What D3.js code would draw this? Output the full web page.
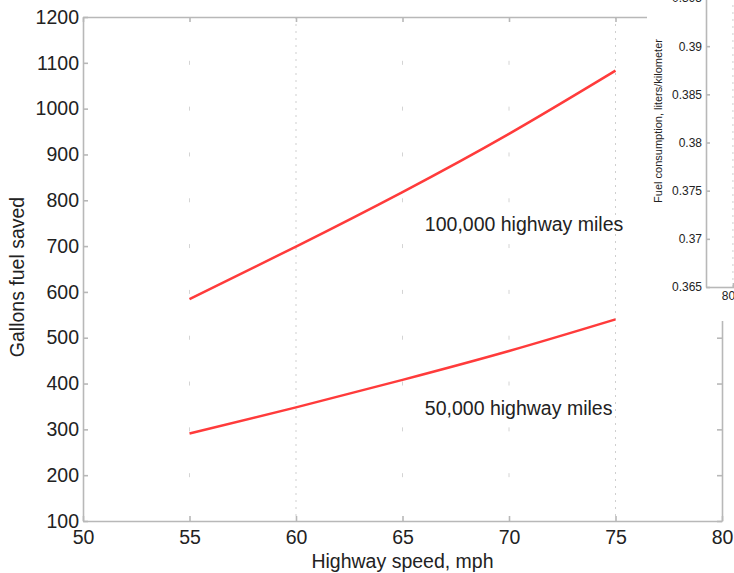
<!DOCTYPE html>
<html>
<head>
<meta charset="utf-8">
<script src="https://cdn.jsdelivr.net/npm/d3@7"></script>
<style>
  body { margin: 0; background: #fff; }
  svg { display: block; font-family: "Liberation Sans", Arial, sans-serif; }
  .axis path, .axis line { stroke: #b8b8b8; stroke-width: 1.6; }
  .axis text { fill: #222; }
</style>
</head>
<body>
<div id="chart"></div>
<script>
// speeds in mph and gallons saved for each distance
const speeds = [55, 60, 65, 70, 75];
const saved100k = [584, 699, 818, 945, 1083];
const saved50k = [291, 348, 408, 471, 540];
const seriesNames = ["100,000 highway miles", "50,000 highway miles"];

const xTicks = [50, 55, 60, 65, 70, 75, 80];
const yTicks = [100, 200, 300, 400, 500, 600, 700, 800, 900, 1000, 1100, 1200];

// the clipped inset at top right
const insetTicks = [0.365, 0.37, 0.375, 0.38, 0.385, 0.39, 0.395];
const insetTickLabels = ["0.365", "0.37", "0.375", "0.38", "0.385", "0.39", "0.395"];
const insetXTicks = [80];

var width = 734, height = 573;
var margin = {top: 17, right: 12, bottom: 52, left: 83};
var fs = 19.5;

var svg = d3.select("#chart").append("svg")
    .attr("width", width)
    .attr("height", height);

var x = d3.scaleLinear().domain([50, 80]).range([margin.left, width - margin.right]);
var y = d3.scaleLinear().domain([100, 1200]).range([height - margin.bottom, margin.top]);

// faint dotted grid: full lines at 60 and 75, dots at the other crossings
var grid = svg.append("g");
[60, 75].forEach(function(v) {
  grid.append("line")
      .attr("x1", x(v)).attr("x2", x(v))
      .attr("y1", y(1200)).attr("y2", y(100))
      .attr("stroke", "#cfcfcf")
      .attr("stroke-dasharray", "2,5");
});
[55, 65, 70].forEach(function(v) {
  yTicks.slice(1, -1).forEach(function(t) {
    grid.append("line")
        .attr("x1", x(v)).attr("x2", x(v))
        .attr("y1", y(t) - 2).attr("y2", y(t) + 2)
        .attr("stroke", "#d4d4d4");
  });
});

// axes with inward ticks
svg.append("g").attr("class", "axis")
    .attr("transform", "translate(0," + y(100) + ")")
    .call(d3.axisBottom(x).tickValues(xTicks).tickSizeInner(-5).tickSizeOuter(0).tickPadding(9))
    .selectAll("text").attr("font-size", fs);

svg.append("g").attr("class", "axis")
    .attr("transform", "translate(" + x(50) + ",0)")
    .call(d3.axisLeft(y).tickValues(yTicks).tickFormat(d3.format("d"))
      .tickSizeInner(-5).tickSizeOuter(0).tickPadding(4))
    .selectAll("text").attr("font-size", fs);

svg.append("g").attr("class", "axis")
    .attr("transform", "translate(0," + y(1200) + ")")
    .call(d3.axisTop(x).tickValues(xTicks).tickSizeInner(-5).tickSizeOuter(0).tickFormat(""));

svg.append("g").attr("class", "axis")
    .attr("transform", "translate(" + x(80) + ",0)")
    .call(d3.axisRight(y).tickValues(yTicks).tickSizeInner(-5).tickSizeOuter(0).tickFormat(""));

// the two curves
var line = d3.line()
    .x(function(d) { return x(d[0]); })
    .y(function(d) { return y(d[1]); })
    .curve(d3.curveNatural);

[saved100k, saved50k].forEach(function(vals) {
  svg.append("path")
      .datum(speeds.map(function(s, i) { return [s, vals[i]]; }))
      .attr("fill", "none")
      .attr("stroke", "#ff3b3b")
      .attr("stroke-width", 2.5)
      .attr("d", line);
});

// series labels
svg.append("text")
    .attr("x", x(66.05)).attr("y", y(748))
    .attr("dominant-baseline", "central")
    .attr("font-size", fs).attr("fill", "#222")
    .text(seriesNames[0]);

svg.append("text")
    .attr("x", x(66.05)).attr("y", y(347))
    .attr("dominant-baseline", "central")
    .attr("font-size", fs).attr("fill", "#222")
    .text(seriesNames[1]);

// axis titles
svg.append("text")
    .attr("transform", "translate(17," + 277 + ") rotate(-90)")
    .attr("text-anchor", "middle")
    .attr("dominant-baseline", "central")
    .attr("font-size", fs).attr("fill", "#222")
    .text("Gallons fuel saved");

svg.append("text")
    .attr("x", x(65)).attr("y", 568)
    .attr("text-anchor", "middle")
    .attr("font-size", fs).attr("fill", "#222")
    .text("Highway speed, mph");

// inset panel laid over the top right corner
svg.append("rect")
    .attr("x", 647).attr("y", 0)
    .attr("width", width - 647).attr("height", 321)
    .attr("fill", "#fff");

var iy = d3.scaleLinear().domain([0.365, 0.395]).range([287, -2]);
var ix = d3.scaleLinear().domain([75, 80.2]).range([706, 734]);

svg.append("line")
    .attr("x1", ix(80)).attr("x2", ix(80))
    .attr("y1", iy(0.395)).attr("y2", iy(0.365))
    .attr("stroke", "#cfcfcf")
    .attr("stroke-dasharray", "2,5");

svg.append("g").attr("class", "axis")
    .attr("transform", "translate(" + ix(75) + ",0)")
    .call(d3.axisLeft(iy).tickValues(insetTicks).tickSizeInner(-4).tickSizeOuter(0).tickPadding(4)
      .tickFormat(function(d, i) { return insetTickLabels[i]; }))
    .selectAll("text").attr("font-size", 12);

svg.append("g").attr("class", "axis")
    .attr("transform", "translate(0," + iy(0.365) + ")")
    .call(d3.axisBottom(ix).tickValues(insetXTicks).tickSizeInner(-4).tickSizeOuter(0).tickPadding(4))
    .selectAll("text").attr("font-size", 12);

svg.append("text")
    .attr("transform", "translate(658,121) rotate(-90)")
    .attr("text-anchor", "middle")
    .attr("dominant-baseline", "central")
    .attr("font-size", 11).attr("fill", "#222")
    .text("Fuel consumption, liters/kilometer");
</script>
</body>
</html>
